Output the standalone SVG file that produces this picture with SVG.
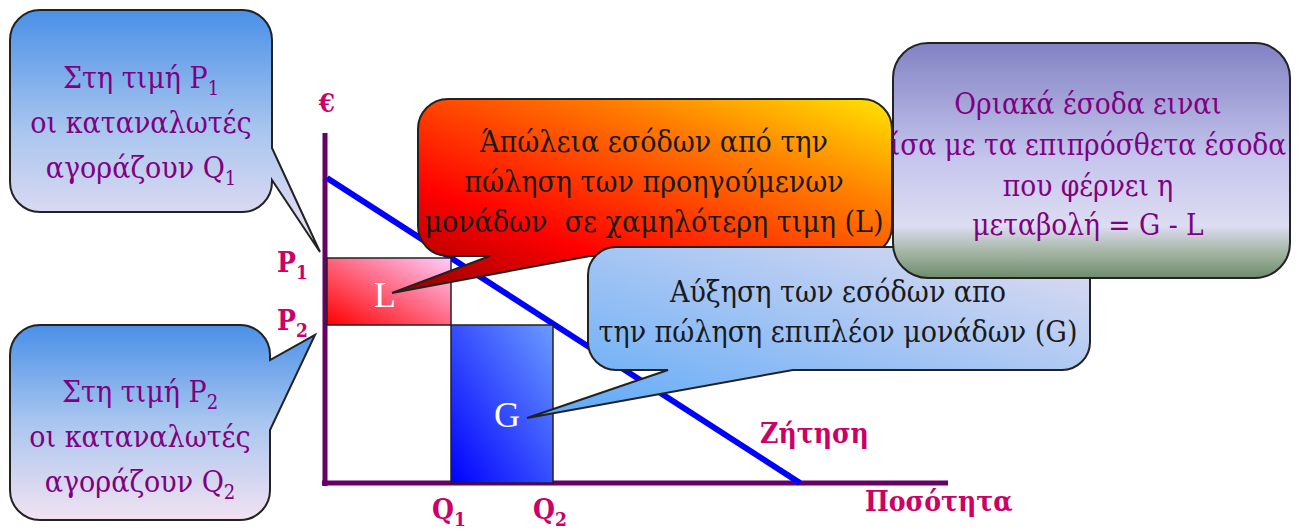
<svg xmlns="http://www.w3.org/2000/svg" width="1299" height="532" viewBox="0 0 1299 532">
<defs>
<linearGradient id="gLeft" x1="0" y1="0" x2="0" y2="1">
<stop offset="0" stop-color="#4a90e8"/><stop offset="0.5" stop-color="#a9c6ef"/><stop offset="1" stop-color="#f2e2f2"/>
</linearGradient>
<linearGradient id="gOrange" x1="0" y1="1" x2="1" y2="0">
<stop offset="0" stop-color="#8b0000"/><stop offset="0.3" stop-color="#ff0000"/><stop offset="0.72" stop-color="#ff8000"/><stop offset="1" stop-color="#ffe600"/>
</linearGradient>
<linearGradient id="gMid" x1="0" y1="1" x2="1" y2="0">
<stop offset="0" stop-color="#5aa8f8"/><stop offset="1" stop-color="#e2ddf0"/>
</linearGradient>
<linearGradient id="gPurple" x1="0" y1="0" x2="0" y2="1">
<stop offset="0" stop-color="#8282c4"/><stop offset="0.5" stop-color="#c6c6ee"/><stop offset="0.78" stop-color="#dcdcf2"/><stop offset="0.88" stop-color="#a9b9a9"/><stop offset="1" stop-color="#6f8b6d"/>
</linearGradient>
<linearGradient id="gL" x1="0" y1="1" x2="1" y2="0">
<stop offset="0" stop-color="#ff0000"/><stop offset="1" stop-color="#ffccff"/>
</linearGradient>
<linearGradient id="gG" x1="0" y1="1" x2="1" y2="0">
<stop offset="0" stop-color="#0000ff"/><stop offset="1" stop-color="#6b9cff"/>
</linearGradient>
<style>
.bub{stroke:#222;stroke-width:2}
.t{font-family:"DejaVu Serif Condensed","DejaVu Serif","Liberation Serif",serif;text-anchor:middle}
.pt{fill:#800080;font-size:30px}
.dk{fill:#1a1a1a;font-size:30px}
.pp{fill:#800080;font-size:29.5px}
.lab{font-family:"DejaVu Serif Condensed","DejaVu Serif","Liberation Serif",serif;font-weight:bold;fill:#cc0066}
.axis{stroke:#660066;stroke-width:5}
.box{stroke:#222;stroke-width:1.5}
.wt{font-family:"Liberation Serif","Times New Roman",serif;fill:#fff;font-size:36px;text-anchor:middle}
</style>
</defs>
<rect width="1299" height="532" fill="#fff"/>

<g id="connectors">
<line class="axis" x1="325" y1="133" x2="325" y2="486"/>
<line class="axis" x1="322" y1="483" x2="948" y2="483"/>
<line x1="327" y1="178" x2="800" y2="483" stroke="#0000ff" stroke-width="6"/>
</g>

<g id="areaL">
<rect class="box" x="327" y="258" width="124" height="67" fill="url(#gL)"/>
<text class="wt" x="385" y="307">L</text>
</g>
<g id="areaG">
<rect class="box" x="451" y="325" width="102" height="158" fill="url(#gG)"/>
<text class="wt" x="507" y="427">G</text>
</g>

<g id="labels">
<text class="lab" x="327" y="112" font-size="26" text-anchor="middle">€</text>
<text class="lab" x="277" y="272" font-size="28">P<tspan font-size="19" dy="7">1</tspan></text>
<text class="lab" x="277" y="330" font-size="28">P<tspan font-size="19" dy="7">2</tspan></text>
<text class="lab" x="432" y="519" font-size="28">Q<tspan font-size="19" dy="7">1</tspan></text>
<text class="lab" x="533" y="519" font-size="28">Q<tspan font-size="19" dy="7">2</tspan></text>
<text class="lab" x="760" y="443" font-size="28">Ζήτηση</text>
<text class="lab" x="865" y="511" font-size="28">Ποσότητα</text>
</g>

<g id="calloutP1">
<path class="bub" fill="url(#gLeft)" d="M40,10 H242 A30,30 0 0 1 272,40 V148 L320,252 L272,180 V182 A30,30 0 0 1 242,212 H40 A30,30 0 0 1 10,182 V40 A30,30 0 0 1 40,10 Z"/>
<text class="t pt" x="141" y="88">Στη τιμή P<tspan font-size="20" dy="7">1</tspan></text>
<text class="t pt" x="141" y="133">οι καταναλωτές</text>
<text class="t pt" x="141" y="178">αγοράζουν Q<tspan font-size="20" dy="7">1</tspan></text>
</g>

<g id="calloutP2">
<path class="bub" fill="url(#gLeft)" d="M40,325 H240 A30,30 0 0 1 270,355 V360 L315,335 L270,430 V490 A30,30 0 0 1 240,520 H40 A30,30 0 0 1 10,490 V355 A30,30 0 0 1 40,325 Z"/>
<text class="t pt" x="140" y="402">Στη τιμή P<tspan font-size="20" dy="7">2</tspan></text>
<text class="t pt" x="140" y="447">οι καταναλωτές</text>
<text class="t pt" x="140" y="492">αγοράζουν Q<tspan font-size="20" dy="7">2</tspan></text>
</g>

<g id="calloutLoss">
<path class="bub" fill="url(#gOrange)" d="M448,99 H862 A30,30 0 0 1 892,129 V226 A30,30 0 0 1 862,256 H590 L392,293 L490,256 H448 A30,30 0 0 1 418,226 V129 A30,30 0 0 1 448,99 Z"/>
<text class="t dk" x="654" y="152">Άπώλεια εσόδων από την</text>
<text class="t dk" x="654" y="192">πώληση των προηγούμενων</text>
<text class="t dk" x="654" y="232" xml:space="preserve">μονάδων  σε χαμηλότερη τιμη (L)</text>
</g>

<g id="calloutGain">
<path class="bub" fill="url(#gMid)" d="M616,247 H1062 A28,28 0 0 1 1090,275 V342 A28,28 0 0 1 1062,370 H793 L527,418 L668,370 H616 A28,28 0 0 1 588,342 V275 A28,28 0 0 1 616,247 Z"/>
<text class="t dk" x="838" y="302">Αύξηση των εσόδων απο</text>
<text class="t dk" x="838" y="342">την πώληση επιπλέον μονάδων (G)</text>
</g>

<g id="calloutMR">
<rect class="bub" x="893" y="43" width="397" height="235" rx="35" ry="35" fill="url(#gPurple)"/>
<text class="t pp" x="1088" y="114">Οριακά έσοδα ειναι</text>
<text class="t pp" x="1088" y="155">ίσα με τα επιπρόσθετα έσοδα</text>
<text class="t pp" x="1088" y="196">που φέρνει η</text>
<text class="t pp" x="1088" y="235">μεταβολή = G - L</text>
</g>
</svg>
